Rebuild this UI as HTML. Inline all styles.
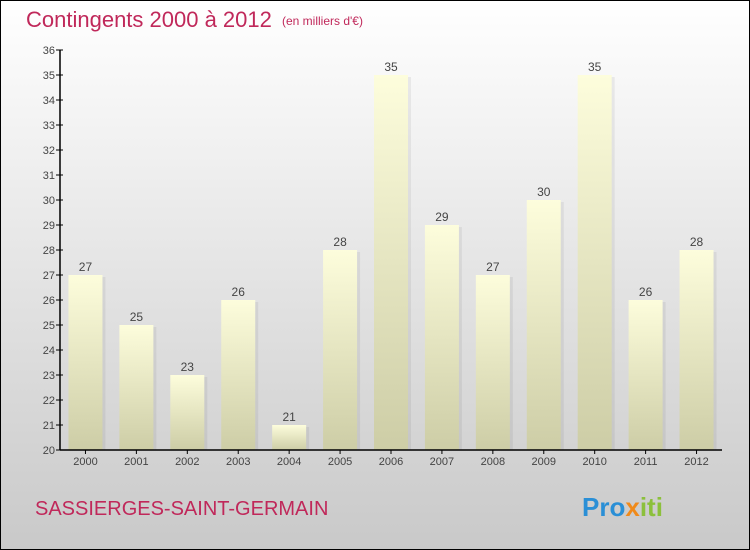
<!DOCTYPE html>
<html><head><meta charset="utf-8"><style>
body{margin:0;}
#wrap{width:750px;height:550px;position:relative;overflow:hidden;}
svg text{font-family:"Liberation Sans",sans-serif;}
</style></head><body>
<div id="wrap">
<svg id="chart" width="750" height="550" xmlns="http://www.w3.org/2000/svg">
<defs>
<linearGradient id="bg" x1="0" y1="0" x2="0" y2="1"><stop offset="0" stop-color="#ffffff"/><stop offset="1" stop-color="#c9c9c9"/></linearGradient>
<linearGradient id="bar" x1="0" y1="0" x2="0" y2="1"><stop offset="0" stop-color="#fdfddc"/><stop offset="1" stop-color="#cdcda6"/></linearGradient>
</defs>
<rect x="0.5" y="0.5" width="749" height="549" fill="url(#bg)" stroke="#000"/>
<text x="26" y="27" font-size="22" fill="#c0285a">Contingents 2000 à 2012</text>
<text x="282" y="25" font-size="12" fill="#c0285a">(en milliers d'€)</text>
<text x="35" y="515" font-size="20" fill="#c0285a">SASSIERGES-SAINT-GERMAIN</text>
<text x="582" y="516" font-size="26" font-weight="bold"><tspan fill="#2a8fd6">Pro</tspan><tspan fill="#f08a1a">x</tspan><tspan fill="#8cc03c">iti</tspan></text>
<g id="bars"></g>
<g id="axes"></g>
</svg>
</div>
<script>
const categories=["2000","2001","2002","2003","2004","2005","2006","2007","2008","2009","2010","2011","2012"];
const values=[27,25,23,26,21,28,35,29,27,30,35,26,28];
const yTicks=[20,21,22,23,24,25,26,27,28,29,30,31,32,33,34,35,36];
const NS="http://www.w3.org/2000/svg";
const x0=60,x1=722,yb=450,yt=50,ymin=20,ymax=36;
const band=(x1-x0)/categories.length;
function xc(i){return x0+band*(i+0.5);}
function y(v){return yb-(v-ymin)/(ymax-ymin)*(yb-yt);}
function mk(tag,attrs,parent){const e=document.createElementNS(NS,tag);for(const k in attrs)e.setAttribute(k,attrs[k]);parent.appendChild(e);return e;}
const gb=document.getElementById('bars'),ga=document.getElementById('axes');
values.forEach((v,i)=>{
  const sh=mk('rect',{x:xc(i)-17+3,y:y(v)+2,width:34,height:yb-y(v)-2,fill:'#000',opacity:0.06},gb);
  
  
  const r=mk('rect',{x:xc(i)-17,y:y(v),width:34,height:yb-y(v),fill:'url(#bar)'},gb);
  
  
  const t=mk('text',{x:xc(i),y:y(v)-4,'font-size':12,fill:'#444','text-anchor':'middle'},gb);
  t.textContent=v;
  
  
  const c=mk('text',{x:xc(i),y:yb+15,'font-size':11,fill:'#444','text-anchor':'middle'},ga);
  c.textContent=categories[i];
  
  
  const tk=mk('line',{x1:xc(i),x2:xc(i),y1:yb,y2:yb+4,stroke:'#000'},ga);
  
  
});
yTicks.forEach(v=>{
  const l=mk('line',{x1:x0-4,x2:x0+3,y1:y(v),y2:y(v),stroke:'#000'},ga);
  
  
  const t=mk('text',{x:x0-5,y:y(v)+4,'font-size':11,fill:'#444','text-anchor':'end'},ga);
  t.textContent=v;
  
  
});
const ya=mk('line',{x1:x0,x2:x0,y1:yt,y2:yb,stroke:'#000','stroke-width':1.5},ga);


const xa=mk('line',{x1:x0,x2:x1,y1:yb,y2:yb,stroke:'#000','stroke-width':1.5},ga);


</script>
</body></html>
